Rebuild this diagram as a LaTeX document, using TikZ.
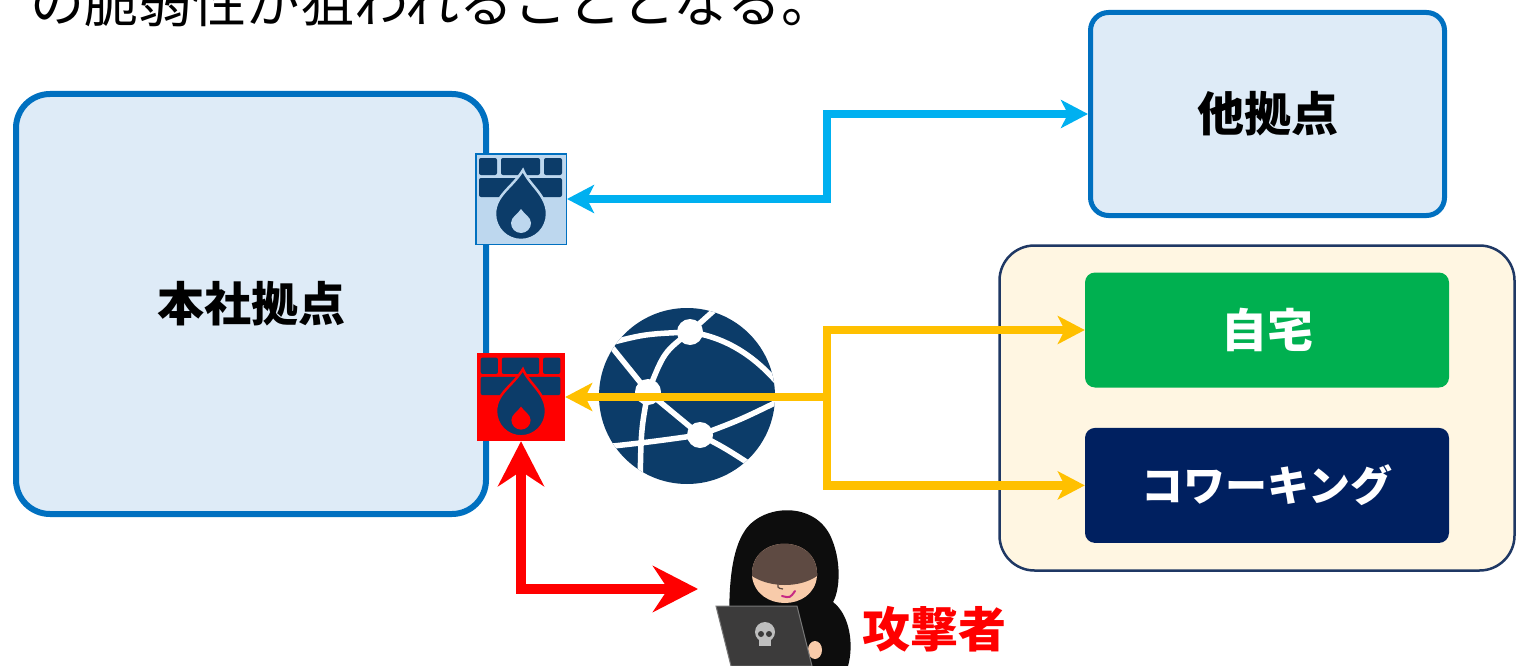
\documentclass[tikz,border=0pt]{standalone}
\usepackage{fontspec}
\newfontfamily\jpfont{Noto Sans CJK JP}
\usetikzlibrary{
    arrows.meta,
    positioning
}

\definecolor{sitefill}{HTML}{DEEBF7}
\definecolor{sitedraw}{HTML}{0070C0}
\definecolor{remotefill}{HTML}{FFF6E2}
\definecolor{remotedraw}{HTML}{1F3864}
\definecolor{homegreen}{HTML}{00B050}
\definecolor{cwnavy}{HTML}{002060}
\definecolor{fwfill}{HTML}{BDD7EE}
\definecolor{netblue}{HTML}{0C3C69}
\definecolor{linkblue}{HTML}{00B0F0}
\definecolor{linkyellow}{HTML}{FFC000}
\definecolor{attackred}{HTML}{FF0000}
\definecolor{faceskin}{HTML}{F8CBAA}
\definecolor{hoodshade}{HTML}{5E4A42}
\definecolor{laptopgray}{HTML}{3C3B3B}
\definecolor{skullgray}{HTML}{BEBEBE}

\begin{document}
\begin{tikzpicture}[x=1pt, y=1pt,
    sitebox/.style = {rectangle, draw=sitedraw, fill=sitefill,
                      font=\jpfont\bfseries\fontsize{47}{56}\selectfont},
    remotebox/.style = {rectangle, draw=remotedraw, fill=remotefill,
                        line width=2.5pt, rounded corners=35pt},
    placebox/.style = {rectangle, rounded corners=10pt, text=white,
                       minimum width=364pt, minimum height=115pt},
    fwbox/.style = {rectangle, inner sep=0pt},
    link/.style = {line width=8.5pt, >={Stealth[length=27pt, width=28pt, inset=7pt]}},
    attack/.style = {attackred, line width=10pt,
                     >={Stealth[length=45pt, width=46pt, inset=15pt]}},
    netline/.style = {white, line width=5.5pt},
    fwicon/.pic = {
        % two rows of bricks
        \foreach \xa/\xb in {-42/-24, -20/19, 23/41}
            \fill[netblue, rounded corners=2pt] (\xa,24) rectangle (\xb,41);
        \foreach \xa/\xb in {-42/-3, 1/41}
            \fill[netblue, rounded corners=2pt] (\xa,2) rectangle (\xb,21);
        % flame
        \filldraw[fill=netblue, draw=#1, line width=2.5pt]
            (2,29) .. controls (8,14) and (26,4) .. (26,-15)
            arc[start angle=0, end angle=-180, radius=26]
            .. controls (-26,4) and (-8,12) .. (2,29) -- cycle;
        \fill[#1] (0,-10) .. controls (3,-15) and (10,-18) .. (10,-24)
            arc[start angle=0, end angle=-180, radius=10]
            .. controls (-10,-18) and (-3,-15) .. (0,-10) -- cycle;
    }
]

    \useasboundingbox (0,0) rectangle (1517,-666);
    \clip (0,0) rectangle (1517,-666);

    \node[anchor=base west, inner sep=0pt, font=\jpfont\fontsize{54}{62}\selectfont]
        (NOTE) at (30,-23) {の脆弱性が狙われることとなる。};

    % sites
    \node[sitebox, line width=6pt, rounded corners=34pt,
          minimum width=470pt, minimum height=420pt] (HQ) at (251,-304) {本社拠点};
    \node[sitebox, line width=5pt, rounded corners=18pt,
          minimum width=354pt, minimum height=203pt] (BR) at (1267.5,-114) {他拠点};

    \node[remotebox, minimum width=515pt, minimum height=325pt] (REM) at (1257,-408) {};
    \node[placebox, fill=homegreen, font=\jpfont\bfseries\fontsize{46}{54}\selectfont]
        (HOME) at (1267,-330) {自宅};
    \node[placebox, fill=cwnavy, font=\jpfont\bfseries\fontsize{42}{50}\selectfont]
        (CW) [below=40pt of HOME] {コワーキング};

    % internet
    \node[circle, fill=netblue, minimum size=176pt, inner sep=0pt] (NET) at (687,-396) {};
    \begin{scope}
        \clip (NET.center) circle[radius=88];
        \coordinate (N1) at (690,-332);
        \coordinate (N2) at (648,-392);
        \coordinate (N3) at (700,-435);
        \draw[netline] (606,-344) .. controls (645,-334) .. (N1);
        \draw[netline] (N1) .. controls (730,-338) and (760,-360) .. (785,-392);
        \draw[netline] (N1) -- (728,-298);
        \draw[netline] (N1) .. controls (664,-352) .. (N2);
        \draw[netline] (N2) -- (606,-340);
        \draw[netline] (N2) .. controls (641,-430) .. (640,-490);
        \draw[netline] (N2) -- (N3);
        \draw[netline] (N3) .. controls (740,-420) .. (785,-398);
        \draw[netline] (N3) .. controls (650,-442) .. (595,-448);
        \draw[netline] (N3) .. controls (725,-448) .. (762,-472);
        \foreach \n in {N1, N2, N3}
            \fill[white] (\n) circle[radius=13];
    \end{scope}

    % firewalls
    \node[fwbox, draw=sitedraw, fill=fwfill, line width=1.5pt, minimum size=90.5pt] (FW1) at (521,-199) {};
    \pic at (FW1) {fwicon=fwfill};
    \node[fwbox, fill=attackred, minimum size=88pt] (FW2) at (521,-397) {};
    \pic[scale=.96] at (FW2) {fwicon=attackred};

    % connections
    \coordinate (JB) at (827,-157);
    \coordinate (JY) at (827,-397);
    \coordinate (ATK) at (698,-589);

    \draw[link, linkblue, <->] (FW1.east) -| (JB) |- (BR.west);
    \draw[link, linkyellow, ->] (JY) -- (FW2.east);
    \draw[link, linkyellow, ->] (JY) |- (HOME.west);
    \draw[link, linkyellow, ->] (JY) |- (CW.west);
    \draw[attack, <->] (FW2.south) |- (ATK);

    % attacker
    \begin{scope}
        \fill[black!95] (732,-666) .. controls (728,-620) and (726,-560) .. (744,-532)
            .. controls (760,-505) and (812,-500) .. (830,-535)
            .. controls (842,-560) and (840,-590) .. (833,-602)
            .. controls (850,-615) and (854,-645) .. (848,-666) -- cycle;
        \fill[faceskin] (752,-576) .. controls (750,-533) and (819,-533) .. (817,-576)
            .. controls (814,-612) and (756,-612) .. (752,-576) -- cycle;
        \fill[hoodshade] (752,-576) .. controls (750,-533) and (819,-533) .. (817,-576)
            .. controls (800,-588) and (770,-588) .. (752,-576) -- cycle;
        \draw[hoodshade, line width=1.2pt] (779,-580) .. controls (777,-588) .. (783,-589);
        \draw[magenta!80!black, line width=2pt, line cap=round]
            (782,-596) .. controls (790,-598) .. (795,-591);
        \fill[faceskin] (815,-650) ellipse[x radius=7, y radius=9];
        \filldraw[fill=laptopgray, draw=laptopgray!70!white, line width=1pt]
            (716,-606) -- (797,-606) -- (812,-666) -- (731,-666) -- cycle;
        \fill[skullgray] (765,-632) circle[radius=10];
        \fill[skullgray] (759,-646) rectangle (771,-636);
        \fill[laptopgray] (761,-634) circle[radius=3] (769,-634) circle[radius=3];
    \end{scope}
    \node[text=attackred, font=\jpfont\bfseries\fontsize{48}{56}\selectfont]
        (ATKL) at (934,-629) {攻撃者};

\end{tikzpicture}
\end{document}
